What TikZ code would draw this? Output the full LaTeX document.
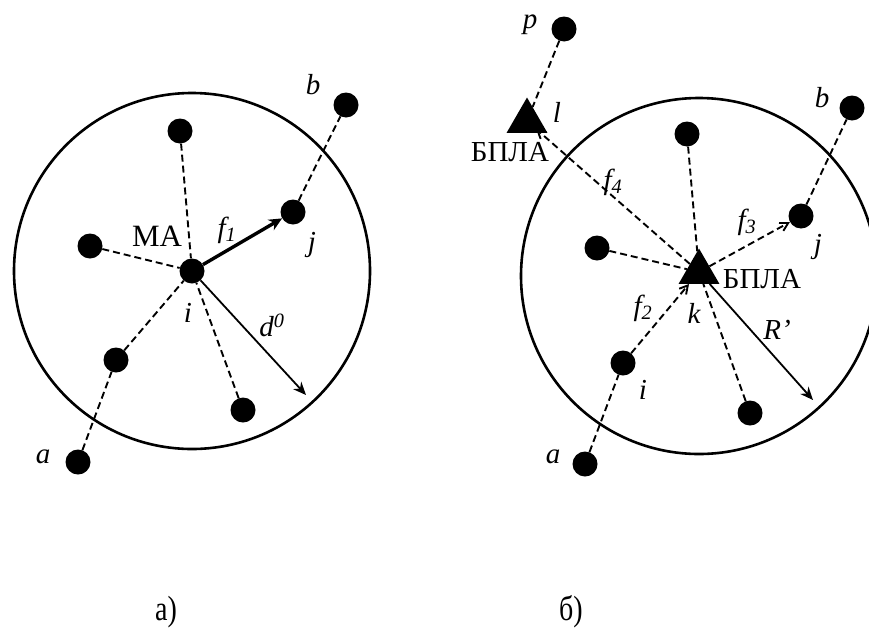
\documentclass[tikz,border=0pt]{standalone}
\usepackage{fontspec}
\setmainfont{Liberation Serif}
\usetikzlibrary{shapes.geometric, arrows.meta}

\begin{document}
\begin{tikzpicture}[x=1pt, y=-1pt,
    dot/.style={circle, fill=black, inner sep=0pt, minimum size=25pt},
    tri/.style={regular polygon, regular polygon sides=3, fill=black, inner sep=0pt, minimum size=47pt},
    lbl/.style={font=\fontsize{29}{31}\selectfont\itshape, inner sep=0pt},
    txt/.style={font=\fontsize{29}{31}\selectfont, inner sep=0pt},
    subcaption/.style={font=\fontsize{35}{37}\selectfont, inner sep=0pt},
    link/.style={dash pattern=on 7pt off 4pt, line width=1.9pt},
    flow/.style={link, -{Straight Barb[length=8pt, width=9pt]}},
    rad/.style={line width=1.8pt, -{Stealth[length=13pt, width=11pt]}},
    rim/.style={line width=2.6pt}
]
\useasboundingbox (0,0) rectangle (869,632);

% а)
\draw[rim] (192,271) circle[radius=178pt];
\node[dot] (Li) at (192,271) {};
\node[dot] (Ltop) at (180,131) {};
\node[dot] (Lleft) at (90,246) {};
\node[dot] (Lj) at (293,212) {};
\node[dot] (Lb) at (346,105) {};
\node[dot] (Llow) at (116,360) {};
\node[dot] (La) at (78,462) {};
\node[dot] (Lbot) at (243,410) {};
\coordinate (Ld) at (306,395);

\draw[link] (Ltop) -- (Li);
\draw[link] (Lleft) -- (Li);
\draw[link] (Llow) -- (Li);
\draw[link] (Lbot) -- (Li);
\draw[link] (Lj) -- (Lb);
\draw[link] (La) -- (Llow);
\draw[line width=3.4pt, -{Stealth[length=13pt, width=12pt]}] (Li) -- (Lj);
\draw[rad] (Li) -- (Ld);

\node[lbl] (Lbtxt) at (313,85) {b};
\node[txt, font=\fontsize{31}{33}\selectfont] (Lmatxt) at (157,236) {МА};
\node[lbl] (Lftxt) at (227,230) {f\textsubscript{1}};
\node[lbl] (Ljtxt) at (312,245) {j};
\node[lbl] (Litxt) at (188,313) {i};
\node[lbl] (Ldtxt) at (272,325) {d\textsuperscript{0}};
\node[lbl] (Latxt) at (43,457) {a};

% б)
\draw[rim] (699,276) circle[radius=178pt];
\node[tri] (Rk) at (699,272) {};
\node[tri] (Rl) at (527,121) {};
\node[dot] (Rp) at (564,29) {};
\node[dot] (Rb) at (852,108) {};
\node[dot] (Rtop) at (687,134) {};
\node[dot] (Rj) at (801,216) {};
\node[dot] (Rleft) at (597,248) {};
\node[dot] (Ri) at (623,363) {};
\node[dot] (Ra) at (585,464) {};
\node[dot] (Rbot) at (750,413) {};
\coordinate (Rr) at (813,400);

\draw[link] (Rtop) -- (Rk);
\draw[link] (Rleft) -- (Rk);
\draw[link] (Rbot) -- (Rk);
\draw[link] (Rj) -- (Rb);
\draw[link] (Ra) -- (Ri);
\draw[link] (Rp) -- (Rl);
\draw[flow] (Ri) -- (Rk);
\draw[flow] (Rk) -- (Rj);
\draw[flow, shorten >=-6pt] (Rk) -- (Rl);
\draw[rad] (Rk) -- (Rr);

\node[lbl] (Rptxt) at (530,25) {p};
\node[lbl] (Rltxt) at (557,112) {l};
\node[txt] (Rlname) at (510,152) {БПЛА};
\node[lbl] (Rbtxt) at (822,98) {b};
\node[lbl] (Rf4txt) at (613,182) {f\textsubscript{4}};
\node[lbl] (Rf3txt) at (747,222) {f\textsubscript{3}};
\node[lbl] (Rjtxt) at (818,247) {j};
\node[txt] (Rkname) at (762,279) {БПЛА};
\node[lbl] (Rf2txt) at (643,308) {f\textsubscript{2}};
\node[lbl] (Rktxt) at (694,313) {k};
\node[lbl] (Rrtxt) at (777,330) {R’};
\node[lbl] (Ritxt) at (643,390) {i};
\node[lbl] (Ratxt) at (553,457) {a};

\node[subcaption] (capa) at (166,612) {\scalebox{0.8}[1]{а)}};
\node[subcaption] (capb) at (571,612) {\scalebox{0.8}[1]{б)}};
\end{tikzpicture}
\end{document}
